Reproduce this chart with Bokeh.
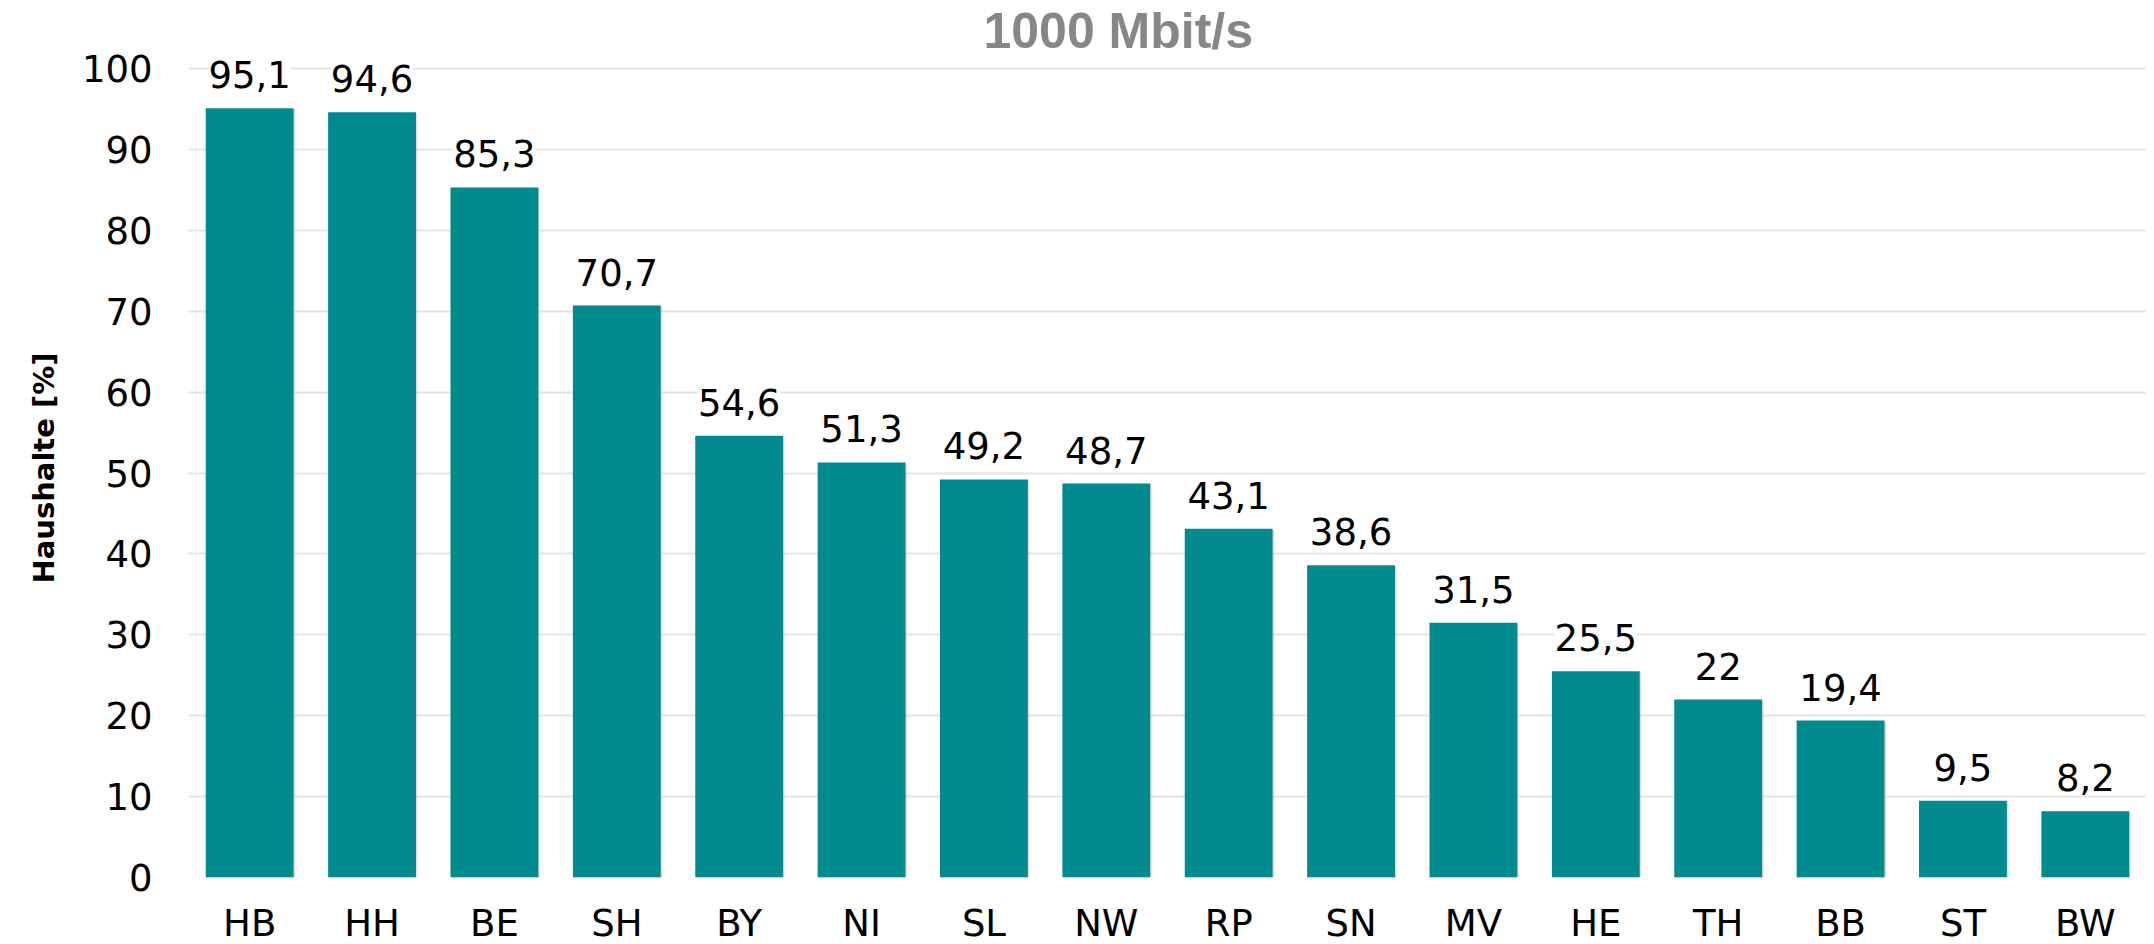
from bokeh.plotting import figure
from bokeh.models import ColumnDataSource, FactorRange, Range1d, LabelSet, FixedTicker
from bokeh.core.properties import value
from bokeh.transform import dodge
from bokeh.embed import file_html
from bokeh.resources import INLINE

# ---- data ----
categories = ["HB", "HH", "BE", "SH", "BY", "NI", "SL", "NW", "RP", "SN", "MV", "HE", "TH", "BB", "ST", "BW"]
values = [95.1, 94.6, 85.3, 70.7, 54.6, 51.3, 49.2, 48.7, 43.1, 38.6, 31.5, 25.5, 22, 19.4, 9.5, 8.2]
y_ticks = [0, 10, 20, 30, 40, 50, 60, 70, 80, 90, 100]
title_text = "1000 Mbit/s"
y_label = "Haushalte [%]"

labels = [f"{v:g}".replace(".", ",") for v in values]
src = ColumnDataSource(data=dict(
    cat=categories,
    val=values,
    lab=labels,
    shadow_top=[v - 0.15 for v in values],
))

W, H = 2146, 980
BORDER_L, FRAME_BOTTOM = 188, 877
FRAME_TOP_EST = 58          # expected height of the title panel
PX_PER_UNIT = 8.09
Y_END = 100 + (68 - FRAME_TOP_EST) / PX_PER_UNIT
BAR = "#018B8F"
FS = "37px"

p = figure(
    width=W, height=H,
    title=title_text,
    x_range=FactorRange(*categories, range_padding=0),
    y_range=Range1d(0, Y_END),
    output_backend="svg",
    toolbar_location=None,
    tools="",
    min_border_left=BORDER_L, min_border_right=0,
    min_border_top=0, min_border_bottom=H - FRAME_BOTTOM,
)
p.outline_line_color = None
p.background_fill_color = "white"
p.border_fill_color = "white"

p.title.align = "left"
p.title.offset = 795
p.title.standoff = 0
p.title.text_font = "Liberation Sans"
p.title.text_font_style = "bold"
p.title.text_font_size = "50px"
p.title.text_color = "#878787"

# faint shadow
p.vbar(x=dodge("cat", 0.012, range=p.x_range), top="shadow_top", bottom=-0.35, width=0.718,
       source=src, fill_color="#b5b5b5", fill_alpha=0.45, line_color=None)
p.vbar(x="cat", top="val", bottom=0, width=0.718, source=src,
       fill_color=BAR, line_color=None)

labs = LabelSet(x="cat", y="val", text="lab", source=src, y_offset=20,
                text_align="center", text_baseline="alphabetic",
                text_font=value("DejaVu Sans"), text_font_size=value(FS),
                text_color="#000000",
                background_fill_color="white")
p.add_layout(labs)

# grid
p.xgrid.grid_line_color = None
p.ygrid.grid_line_color = "#E4E4E4"
p.ygrid.grid_line_width = 2
p.ygrid.ticker = FixedTicker(ticks=y_ticks)

# axes
p.yaxis.ticker = FixedTicker(ticks=y_ticks)
for ax in (p.xaxis[0], p.yaxis[0]):
    ax.axis_line_color = None
    ax.major_tick_line_color = None
    ax.minor_tick_line_color = None
    ax.major_tick_out = 0
    ax.major_tick_in = 0
    ax.minor_tick_out = 0
    ax.major_label_text_font = "DejaVu Sans"
    ax.major_label_text_font_size = FS
    ax.major_label_text_color = "#000000"
p.xaxis.major_label_standoff = 24
p.yaxis.major_label_standoff = 36

p.yaxis.axis_label = y_label
p.yaxis.axis_label_text_font = "DejaVu Sans"
p.yaxis.axis_label_text_font_style = "bold"
p.yaxis.axis_label_text_font_size = "29px"
p.yaxis.axis_label_text_color = "#000000"
p.yaxis.axis_label_standoff = 18

open("out.html", "w").write(file_html(p, INLINE))
